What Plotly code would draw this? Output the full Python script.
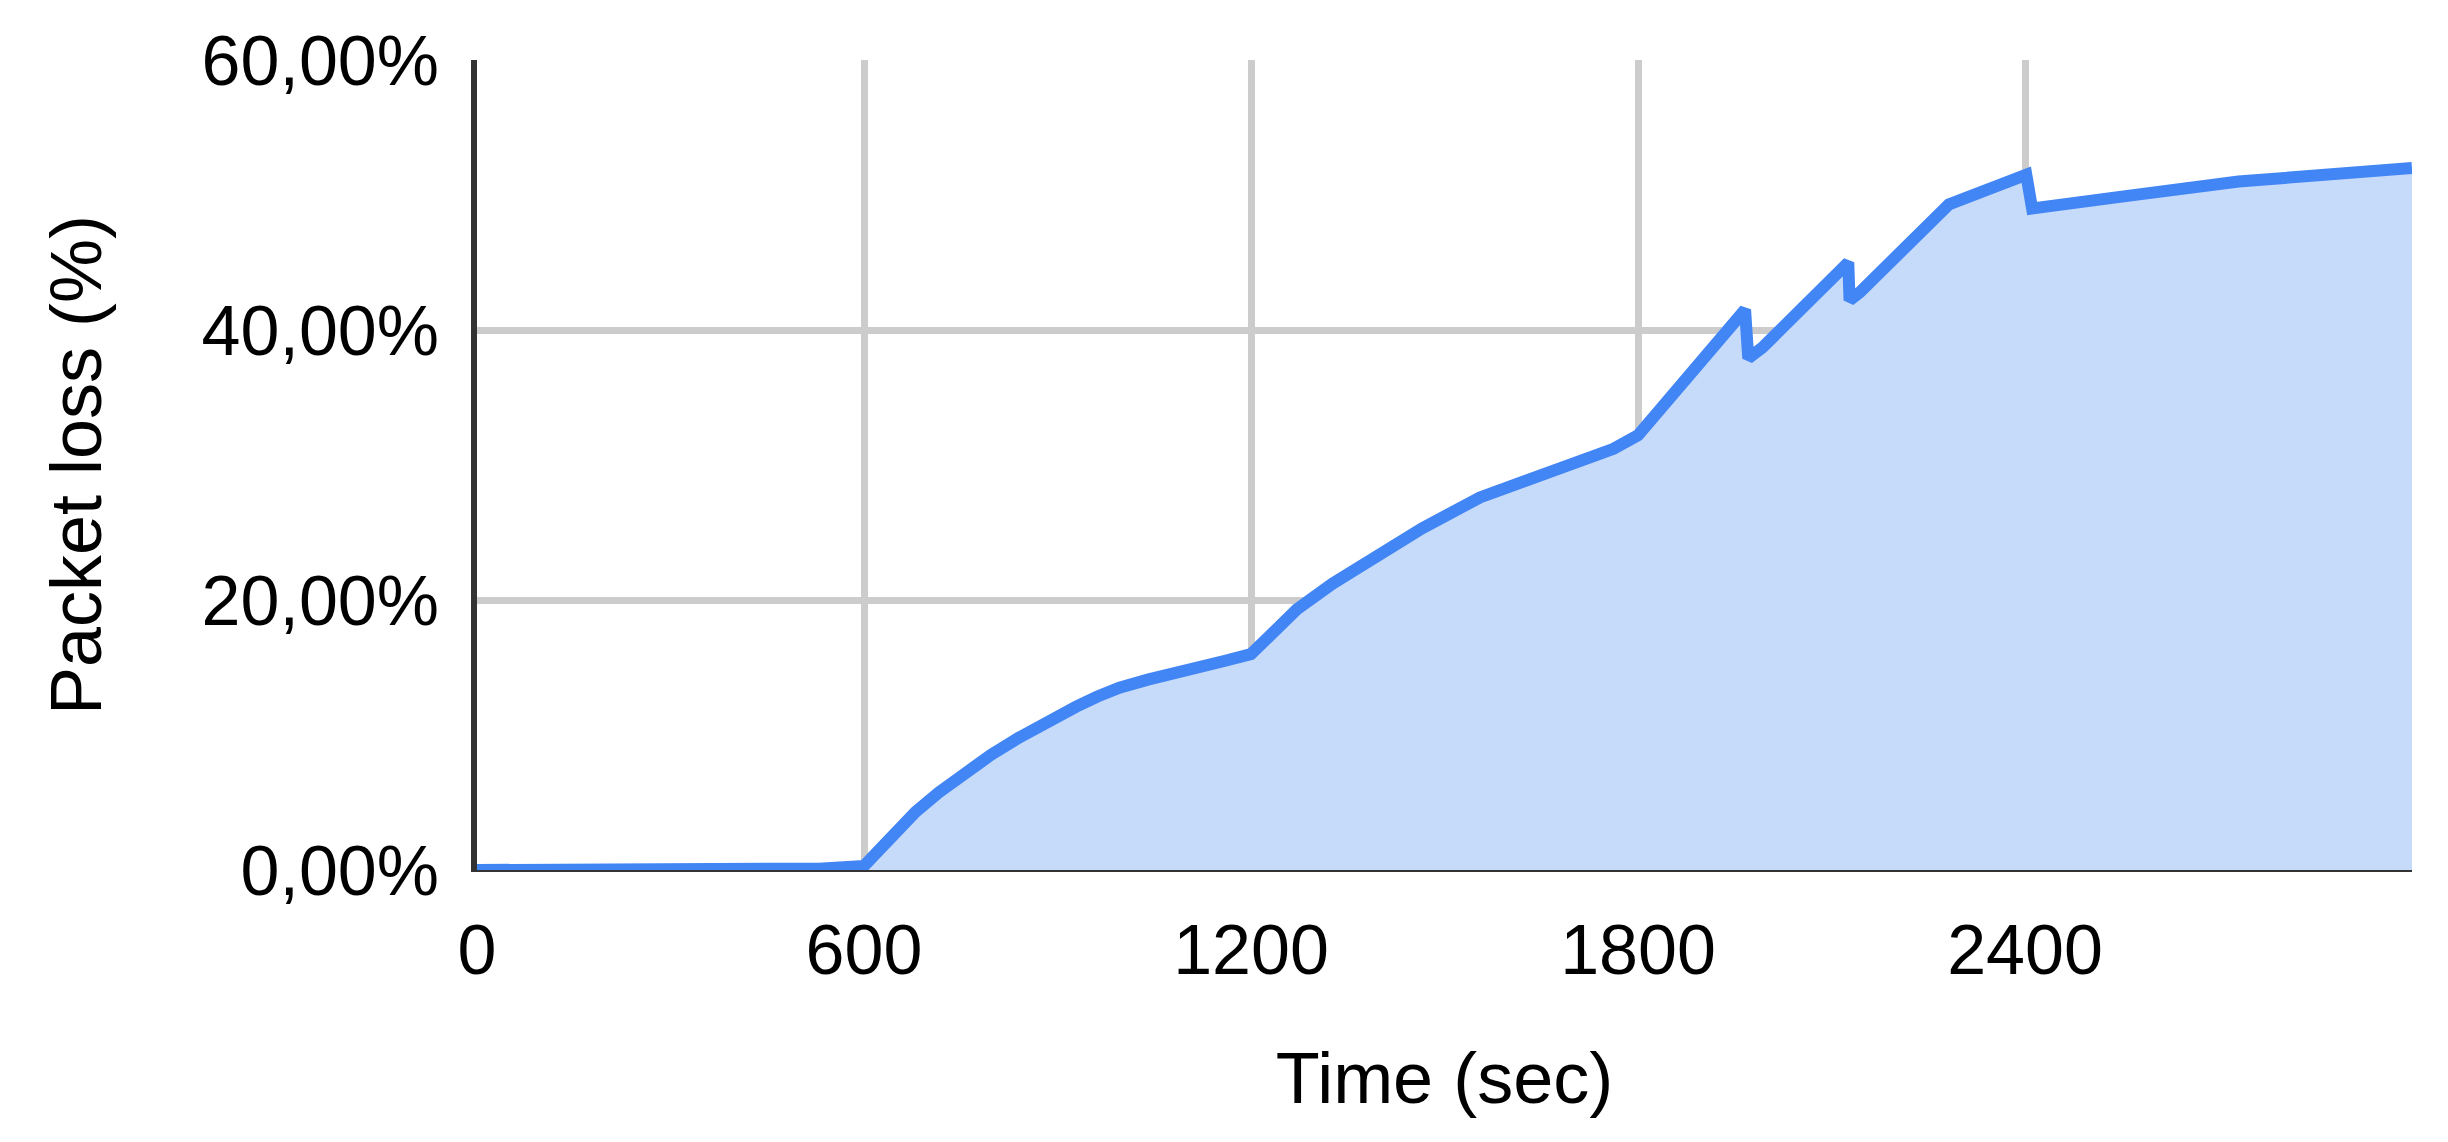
import plotly.graph_objects as go

# 시간(초)과 패킷 손실률(비율)
TIME_SEC = [0, 520, 530, 600, 640, 680, 716, 751, 796, 840, 884, 929, 962, 996, 1040, 1100,
            1160, 1200, 1244, 1271, 1326, 1382, 1465, 1555, 1658, 1762, 1800, 1966, 1971,
            1993, 2126, 2128, 2144, 2282, 2402, 2411, 2553, 2731, 3000]
LOSS = [0.0, 0.0, 0.001, 0.003, 0.024, 0.043, 0.0575, 0.070, 0.085, 0.098, 0.110, 0.121,
        0.1285, 0.135, 0.141, 0.149, 0.155, 0.160, 0.179, 0.193, 0.212, 0.229, 0.253,
        0.276, 0.295, 0.312, 0.322, 0.415, 0.379, 0.387, 0.450, 0.422, 0.428, 0.493,
        0.515, 0.490, 0.499, 0.510, 0.520]

X_TICKS = [0, 600, 1200, 1800, 2400, 3000]
X_TICK_TEXT = ["0", "600", "1200", "1800", "2400", ""]
Y_TICKS = [0, 0.2, 0.4, 0.6]

FONT = "Liberation Sans, Arial, sans-serif"

fig = go.Figure()

fig.add_trace(
    go.Scatter(
        x=TIME_SEC,
        y=LOSS,
        mode="lines",
        line={"color": "#4285f4", "width": 12},
        fill="tozeroy",
        fillcolor="#c6dafa",
        showlegend=False,
    )
)

# 페이지 기본 여백(8px)을 감안한 크기
fig.update_layout(
    width=2440,
    height=1134,
    margin={"l": 469, "r": 36, "t": 52, "b": 272},
    paper_bgcolor="white",
    plot_bgcolor="white",
    separators=",.",
    font={"family": FONT, "color": "black", "size": 70},
)

fig.update_xaxes(
    range=[0, 3000],
    tickvals=X_TICKS,
    ticktext=X_TICK_TEXT,
    showgrid=True,
    gridcolor="#cccccc",
    gridwidth=7,
    zeroline=False,
    showline=True,
    linecolor="#333333",
    linewidth=2,
    ticks="",
    ticklabelstandoff=18,
    tickfont={"size": 70},
    automargin=False,
    title={"text": "Time (sec)", "font": {"size": 72}, "standoff": 65},
)

fig.update_yaxes(
    range=[0, 0.6],
    tickvals=Y_TICKS,
    tickformat=".2%",
    showgrid=True,
    gridcolor="#cccccc",
    gridwidth=7,
    zeroline=False,
    showline=True,
    linecolor="#333333",
    linewidth=6,
    ticks="",
    ticklabelstandoff=18,
    tickfont={"size": 70},
    automargin=False,
    title={"text": "Packet loss (%)", "font": {"size": 72}, "standoff": 78},
)

fig.write_html("out.html")
